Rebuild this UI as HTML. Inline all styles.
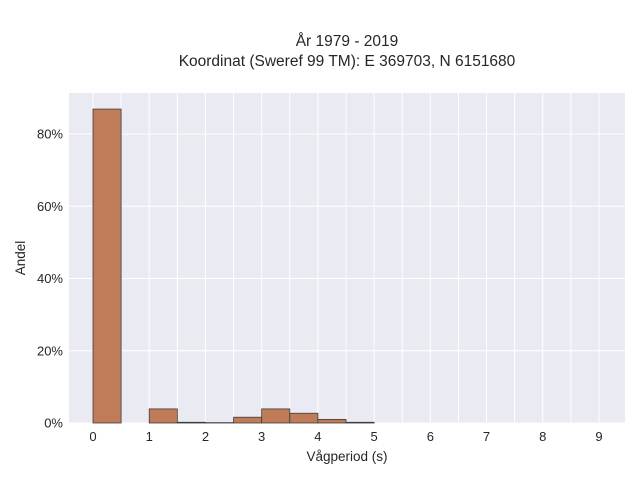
<!DOCTYPE html>
<html><head><meta charset="utf-8"><style>
body{margin:0;background:#fff;font-family:"Liberation Sans",sans-serif;}
svg text{font-family:"Liberation Sans",sans-serif;fill:#262626;}
</style></head><body>
<svg width="640" height="480" xmlns="http://www.w3.org/2000/svg" id="chart">
<text x="347" y="46" font-size="15.5" text-anchor="middle">År 1979 - 2019</text>
<text x="347" y="66" font-size="15.5" text-anchor="middle">Koordinat (Sweref 99 TM): E 369703, N 6151680</text>
<rect x="69" y="93" width="556" height="330" fill="#eaeaf2"/>
<g id="grid"></g><g id="bars"></g><g id="xt"></g><g id="yt"></g>
<text x="347" y="461" font-size="13.5" text-anchor="middle">Vågperiod (s)</text>
<text x="25" y="258" font-size="13.5" text-anchor="middle" transform="rotate(-90 25 258)">Andel</text>
</svg>
<script>
const binStarts=[0,1,1.5,2,2.5,3,3.5,4,4.5];
const binValues=[86.9,3.9,0.2,0.1,1.6,3.9,2.7,1.0,0.2];
const xTicks=[0,1,2,3,4,5,6,7,8,9];
const yTicks=[0,20,40,60,80];
const binWidth=0.5;
const NS="http://www.w3.org/2000/svg";
const X=v=>93+v*56.22, Y=v=>423-v*3.6125;
function mk(t,a,p){const e=document.createElementNS(NS,t);for(const k in a)e.setAttribute(k,a[k]);p.appendChild(e);return e;}
const grid=document.getElementById('grid');
for(let v=0;v<=9.01;v+=0.5){const l=mk('line',{x1:X(v),x2:X(v),y1:93,y2:423,stroke:'#fff','stroke-width':1},grid);

}
yTicks.forEach(v=>{const l=mk('line',{x1:69,x2:625,y1:Y(v),y2:Y(v),stroke:'#fff','stroke-width':1},grid);


const t=mk('text',{x:63,y:Y(v)+4.5,'font-size':13,'text-anchor':'end'},document.getElementById('yt'));t.textContent=v+'%';

});
xTicks.forEach(v=>{const t=mk('text',{x:X(v),y:441,'font-size':13,'text-anchor':'middle'},document.getElementById('xt'));t.textContent=v;

});
binStarts.forEach((s,i)=>{const r=mk('rect',{x:X(s),y:Y(binValues[i]),width:X(s+binWidth)-X(s),height:423-Y(binValues[i]),fill:'#c07c58',stroke:'#3d3d3d','stroke-width':0.8},document.getElementById('bars'));

});
</script>
</body></html>
